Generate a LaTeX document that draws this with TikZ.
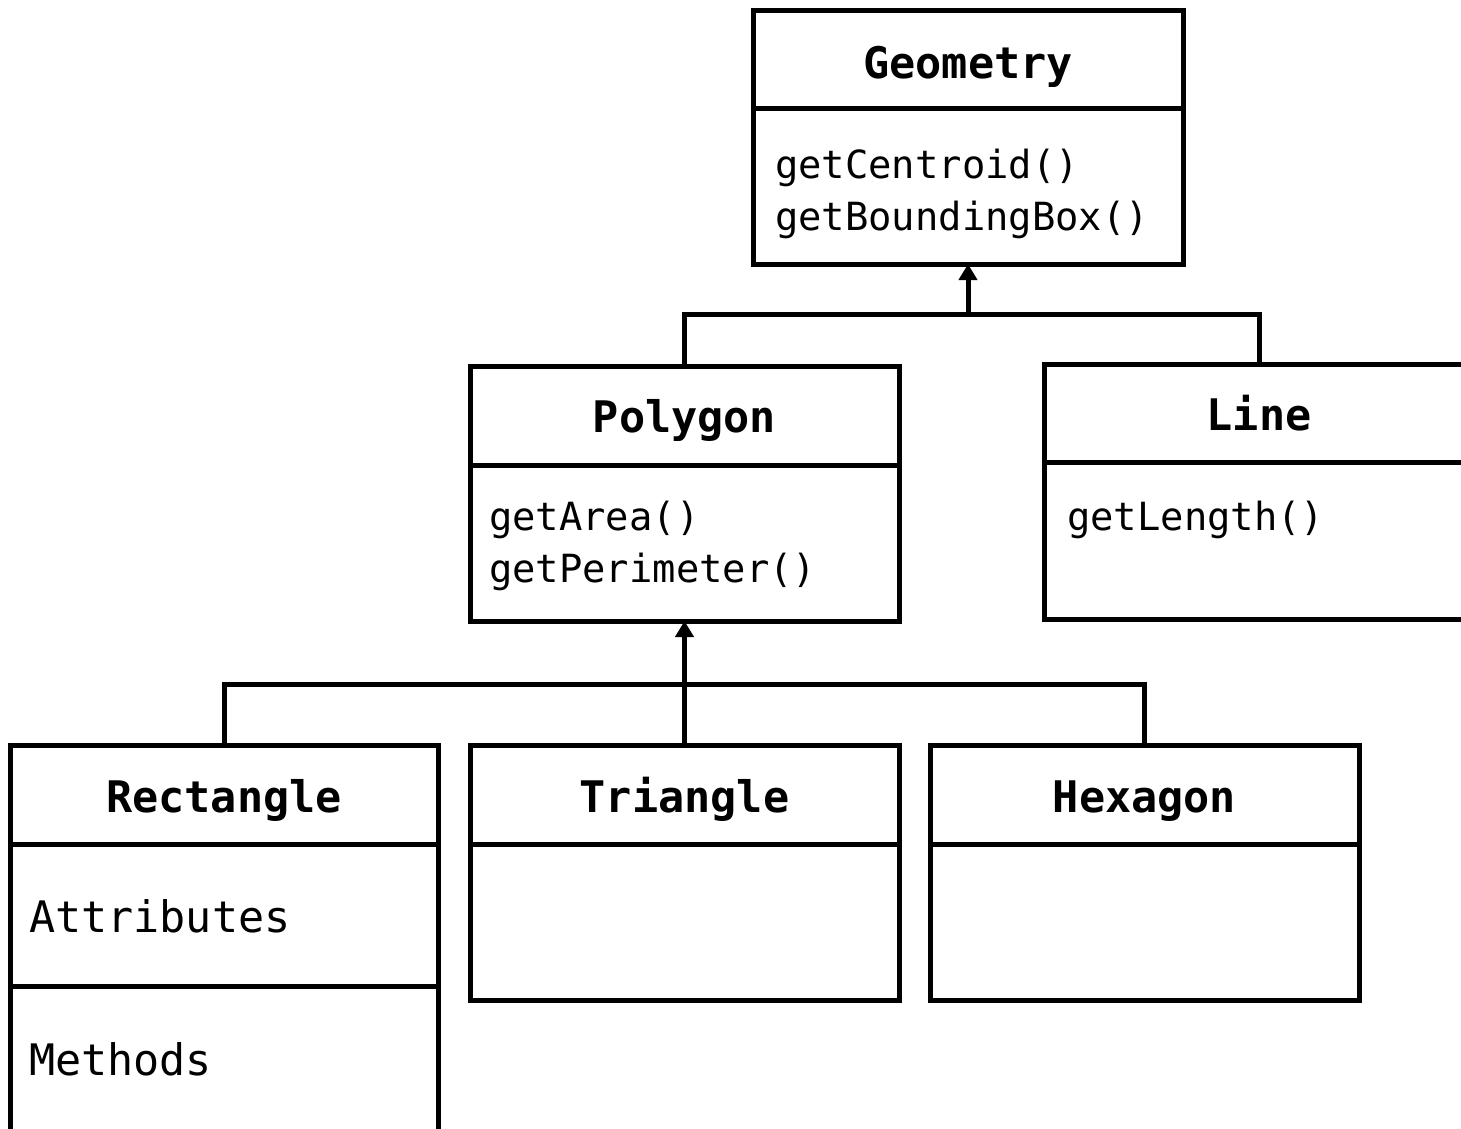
\documentclass[tikz,border=0pt]{standalone}
\usepackage{fontspec}
\setmonofont{DejaVu Sans Mono}
\usetikzlibrary{arrows.meta}

\tikzset{
  classbox/.style={draw, line width=5pt, rectangle, inner sep=0pt, outer sep=0pt},
  divider/.style={line width=5pt},
  link/.style={line width=5pt},
  inherit/.style={link, -{Triangle[width=18pt,length=16pt]}},
  titletext/.style={font=\ttfamily\bfseries\fontsize{43.5}{52}\selectfont, inner sep=0pt, anchor=base},
  membertext/.style={font=\ttfamily\fontsize{38.8}{52}\selectfont, inner sep=0pt, anchor=base west, align=left},
  slottext/.style={font=\ttfamily\fontsize{43.4}{52}\selectfont, inner sep=0pt, anchor=base west},
}

\begin{document}
\begin{tikzpicture}[x=1pt, y=-1pt]
\useasboundingbox (0,0) rectangle (1461,1128);
\clip (0,0) rectangle (1461,1128);

% Geometry
\node[classbox, minimum width=430pt, minimum height=254pt] (geom) at (968,137) {};
\draw[divider] (geom.west |- 0,108) -- (geom.east |- 0,108);
\node[titletext] (geomT) at (968,78) {Geometry};
\node[membertext] (geomM1) at (775,178) {getCentroid()};
\node[membertext] (geomM2) at (775,230) {getBoundingBox()};

% Polygon
\node[classbox, minimum width=429pt, minimum height=255pt] (poly) at (684.5,493.5) {};
\draw[divider] (poly.west |- 0,465) -- (poly.east |- 0,465);
\node[titletext] (polyT) at (684.5,432) {Polygon};
\node[membertext] (polyM1) at (489,530) {getArea()};
\node[membertext] (polyM2) at (489,582) {getPerimeter()};

% Line
\node[classbox, minimum width=430pt, minimum height=255pt] (line) at (1259,491.5) {};
\draw[divider] (line.west |- 0,462) -- (line.east |- 0,462);
\node[titletext] (lineT) at (1259,430) {Line};
\node[membertext] (lineM1) at (1067,530) {getLength()};

% Rectangle
\node[classbox, minimum width=428pt, minimum height=420pt] (rect) at (224,955) {};
\draw[divider] (rect.west |- 0,844) -- (rect.east |- 0,844);
\draw[divider] (rect.west |- 0,986) -- (rect.east |- 0,986);
\node[titletext] (rectT) at (224,812) {Rectangle};
\node[slottext] (rectA) at (29,932) {Attributes};
\node[slottext] (rectM) at (29,1075) {Methods};

% Triangle
\node[classbox, minimum width=429pt, minimum height=255pt] (tri) at (684.5,872.5) {};
\draw[divider] (tri.west |- 0,844) -- (tri.east |- 0,844);
\node[titletext] (triT) at (684.5,812) {Triangle};

% Hexagon
\node[classbox, minimum width=429pt, minimum height=255pt] (hex) at (1144.5,872.5) {};
\draw[divider] (hex.west |- 0,844) -- (hex.east |- 0,844);
\node[titletext] (hexT) at (1144.5,812) {Hexagon};

% Inheritance: Polygon and Line from Geometry
\coordinate (jg) at (geom.south |- 0,314);
\draw[link] (poly.north) |- (jg) -| (line.north);
\draw[inherit] (jg) -- (geom.south);

% Inheritance: Rectangle, Triangle, Hexagon from Polygon
\coordinate (jp) at (poly.south |- 0,684);
\draw[link] (rect.north) |- (jp) -| (hex.north);
\draw[inherit] (tri.north) -- (poly.south);
\end{tikzpicture}
\end{document}
